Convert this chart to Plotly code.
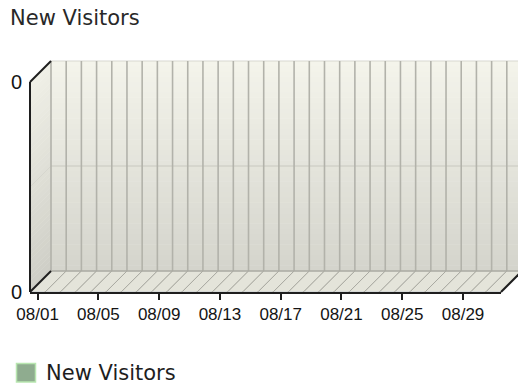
import plotly.graph_objects as go

# ---- data -------------------------------------------------------------
days = ["08/01", "08/02", "08/03", "08/04", "08/05", "08/06", "08/07", "08/08",
        "08/09", "08/10", "08/11", "08/12", "08/13", "08/14", "08/15", "08/16",
        "08/17", "08/18", "08/19", "08/20", "08/21", "08/22", "08/23", "08/24",
        "08/25", "08/26", "08/27", "08/28", "08/29", "08/30", "08/31"]
new_visitors = [0, 0, 0, 0, 0, 0, 0, 0, 0, 0, 0, 0, 0, 0, 0, 0,
                0, 0, 0, 0, 0, 0, 0, 0, 0, 0, 0, 0, 0, 0, 0]
x_tick_labels = ["08/01", "08/05", "08/09", "08/13", "08/17", "08/21", "08/25", "08/29"]
y_tick_values = [0, 1]
y_tick_labels = ["0", "0"]
series_name = "New Visitors"
chart_title = "New Visitors"

# ---- geometry ---------------------------------------------------------
FIG_W, FIG_H = 518, 389
M_L, M_R, M_T, M_B = 30, 17, 82, 97
PLOT_W = FIG_W - M_L - M_R
PLOT_H = FIG_H - M_T - M_B
DEPTH_X, DEPTH_Y = 21, 21          # pseudo-3D depth offset in pixels
DX = DEPTH_X / PLOT_W              # depth offset in paper units
DY = DEPTH_Y / PLOT_H
N = len(days)
Y_MIN, Y_MAX = 0, 1


def cat_paper(c):
    """category position (index, may be fractional) -> paper x"""
    return (c + 0.5) / N


def val_paper(v):
    return (v - Y_MIN) / (Y_MAX - Y_MIN)


def px_x(p):
    return (p - M_L) / PLOT_W


def px_y(p):
    return (FIG_H - M_B - p) / PLOT_H


def mix(c0, c1, t):
    return "rgb(%d,%d,%d)" % tuple(round(a + (b - a) * t) for a, b in zip(c0, c1))


shapes = []

# back wall and side wall with a vertical gradient
WALL_BOTTOM = (212, 212, 204)
WALL_TOP = (244, 244, 235)
SIDE_BOTTOM = (206, 206, 198)
SIDE_TOP = (240, 240, 231)
BANDS = 40
for k in range(BANDS):
    y0 = k / BANDS
    y1 = (k + 1) / BANDS + 0.002
    t = (k + 0.5) / BANDS
    shapes.append(dict(type="rect", xref="paper", yref="paper", layer="below",
                       x0=DX, x1=1 + DX + 0.05, y0=y0 + DY, y1=min(y1, 1) + DY,
                       fillcolor=mix(WALL_BOTTOM, WALL_TOP, t), line=dict(width=0)))
    shapes.append(dict(type="path", xref="paper", yref="paper", layer="below",
                       path="M0,%f L%f,%f L%f,%f L0,%f Z" % (
                           y0, DX, y0 + DY, DX, min(y1, 1) + DY, min(y1, 1)),
                       fillcolor=mix(SIDE_BOTTOM, SIDE_TOP, t), line=dict(width=0)))

# floor
shapes.append(dict(type="path", xref="paper", yref="paper", layer="below",
                   path="M0,0 L1,0 L%f,%f L%f,%f Z" % (1 + DX, DY, DX, DY),
                   fillcolor="rgb(226,226,216)", line=dict(width=0)))

# horizontal mid grid on back and side walls
ymid = val_paper((Y_MIN + Y_MAX) / 2)
shapes.append(dict(type="line", xref="paper", yref="paper", layer="below",
                   x0=DX, x1=1 + DX + 0.05, y0=ymid + DY, y1=ymid + DY,
                   line=dict(color="rgb(200,200,192)", width=1)))
shapes.append(dict(type="line", xref="paper", yref="paper", layer="below",
                   x0=0, x1=DX, y0=ymid, y1=ymid + DY,
                   line=dict(color="rgb(214,214,206)", width=1)))
# top edge of back wall
shapes.append(dict(type="line", xref="paper", yref="paper", layer="below",
                   x0=DX, x1=1 + DX + 0.05, y0=1 + DY, y1=1 + DY,
                   line=dict(color="rgb(215,215,208)", width=1)))

# vertical grid lines on the back wall at category boundaries
for k in range(N + 1):
    xb = cat_paper(k - 0.5) + DX
    shapes.append(dict(type="line", xref="paper", yref="paper", layer="below",
                       x0=xb, x1=xb, y0=DY, y1=1 + DY,
                       line=dict(color="rgb(178,178,170)", width=1.6)))

# bar bodies drawn from the values: top face parallelogram of each bar
for i, v in enumerate(new_visitors):
    xa, xb = cat_paper(i - 0.5), cat_paper(i + 0.5)
    yv = val_paper(v)
    shapes.append(dict(type="path", xref="paper", yref="paper", layer="below",
                       path="M%f,%f L%f,%f L%f,%f L%f,%f Z" % (
                           xa, yv, xb, yv, xb + DX, yv + DY, xa + DX, yv + DY),
                       fillcolor="rgb(228,228,218)",
                       line=dict(color="rgb(170,170,162)", width=1)))

# floor back edge
shapes.append(dict(type="line", xref="paper", yref="paper", layer="below",
                   x0=DX, x1=1 + DX + 0.05, y0=DY, y1=DY,
                   line=dict(color="rgb(170,170,162)", width=1)))

# dark outline edges of the box
EDGE = dict(color="rgb(30,30,30)", width=2)
for (x0, y0, x1, y1) in [(0, 0, 0, 1), (0, 1, DX, 1 + DY), (0, 0, DX, DY),
                         (1, 0, 1 + DX, DY)]:
    shapes.append(dict(type="line", xref="paper", yref="paper", layer="above",
                       x0=x0, y0=y0, x1=x1, y1=y1, line=EDGE))

# legend swatch
shapes.append(dict(type="rect", xref="paper", yref="paper", layer="above",
                   x0=px_x(16.5), x1=px_x(35.5), y0=px_y(382), y1=px_y(363.5),
                   fillcolor="rgb(143,172,143)",
                   line=dict(color="rgb(184,230,176)", width=1.5)))

fig = go.Figure()
fig.add_trace(go.Bar(x=days, y=new_visitors, name=series_name,
                     marker=dict(color="rgb(143,172,143)"), showlegend=False))

fig.update_layout(
    width=FIG_W, height=FIG_H,
    margin=dict(l=M_L, r=M_R, t=M_T, b=M_B, pad=0),
    paper_bgcolor="white", plot_bgcolor="rgba(0,0,0,0)",
    showlegend=False,
    title=dict(text=chart_title, x=10 / FIG_W,
               xref="container", yref="container", y=1 - 18 / FIG_H,
               xanchor="left", yanchor="middle",
               font=dict(family="DejaVu Sans", size=21, color="rgb(40,40,40)")),
    xaxis=dict(type="category", range=[-0.5, N - 0.5],
               tickmode="array", tickvals=x_tick_labels, ticktext=x_tick_labels,
               ticks="outside", ticklen=6, tickwidth=1.5, tickcolor="rgb(30,30,30)",
               showline=True, linecolor="rgb(30,30,30)", linewidth=2,
               showgrid=False, zeroline=False, ticklabelstandoff=0,
               tickfont=dict(family="Liberation Sans", size=17, color="rgb(20,20,20)")),
    yaxis=dict(range=[Y_MIN, Y_MAX], tickmode="array", tickvals=y_tick_values,
               ticktext=y_tick_labels, ticks="", showline=False, showgrid=False,
               zeroline=False, ticklabelstandoff=7,
               tickfont=dict(family="Liberation Sans", size=20, color="rgb(20,20,20)")),
    shapes=shapes,
    annotations=[dict(text=series_name, xref="paper", yref="paper",
                      x=px_x(44), y=px_y(373), xanchor="left", yanchor="middle",
                      showarrow=False,
                      font=dict(family="DejaVu Sans", size=21, color="rgb(30,30,30)"))],
    bargap=0.1,
)

fig.write_html("out.html")
